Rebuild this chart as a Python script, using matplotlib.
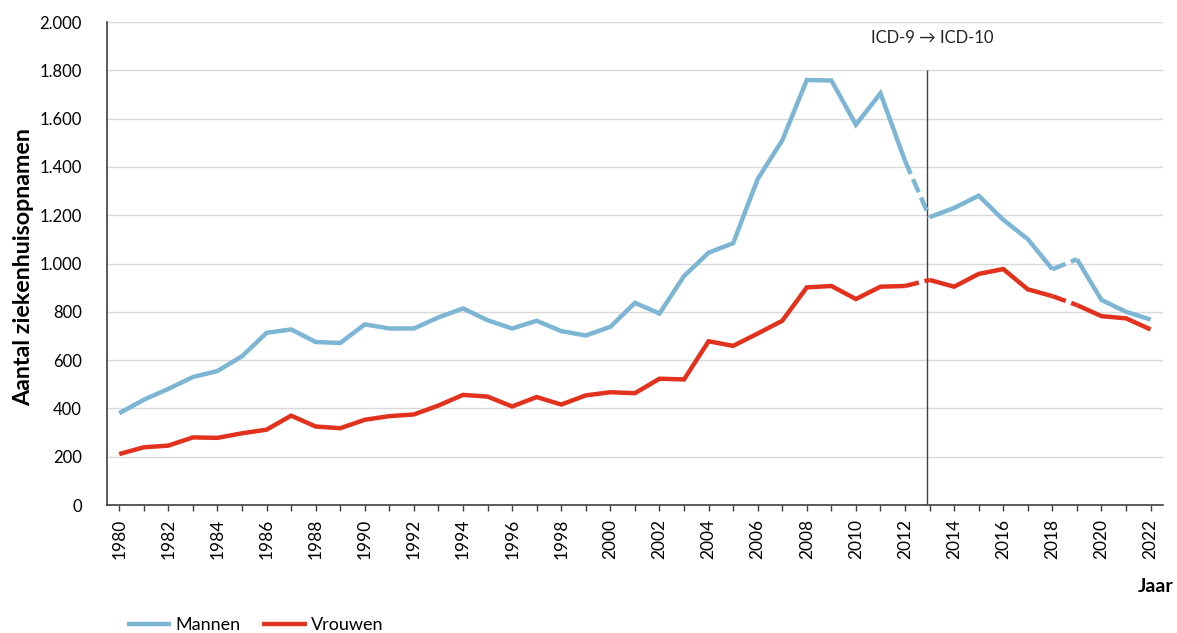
import numpy as np
import matplotlib.pyplot as plt
from matplotlib.ticker import FuncFormatter, MultipleLocator

# --- Data ---
years = list(range(1980, 2023))
mannen = [380, 436, 481, 530, 555, 616, 713, 727, 675, 671,
          748, 731, 731, 777, 814, 765, 731, 763, 720, 702,
          738, 837, 793, 948, 1045, 1084, 1350, 1510, 1760, 1758,
          1575, 1705, 1425, 1192, 1230, 1281, 1181, 1101, 976, 1018,
          849, 800, 768]
vrouwen = [211, 239, 246, 280, 278, 297, 312, 370, 325, 318,
           353, 368, 375, 412, 456, 449, 408, 447, 416, 454,
           467, 463, 523, 520, 678, 659, 710, 763, 901, 907,
           853, 904, 907, 932, 904, 957, 977, 893, 865, 828,
           782, 773, 727]
# segments where the coding changed (drawn dashed)
dashed_after = [2012, 2018]
icd_year = 2012.9
icd_label = "ICD-9 \u2192 ICD-10"

BLUE = "#7db5d4"
RED = "#e2311d"
FONT = ["Lato", "DejaVu Sans"]

plt.rcParams["font.family"] = FONT


def plot_series(ax, x, y, color, label):
    x = np.array(x)
    y = np.array(y)
    # split into solid pieces at the dashed transitions
    breaks = [x.tolist().index(b) for b in dashed_after]
    start = 0
    for b in breaks:
        ax.plot(x[start:b + 1], y[start:b + 1], color=color, lw=3.2,
                solid_capstyle="butt", solid_joinstyle="miter")
        ax.plot(x[b:b + 2], y[b:b + 2], color=color, lw=3.2,
                linestyle=(0, (3.2, 1.3)), dash_capstyle="butt")
        start = b + 1
    ax.plot(x[start:], y[start:], color=color, lw=3.2, label=label,
            solid_capstyle="butt", solid_joinstyle="miter")


fig = plt.figure(figsize=(11.77, 6.33), dpi=100)
ax = fig.add_axes([0.0909, 0.2022, 0.8971, 0.763])

ax.set_xlim(1979.5, 2022.5)
ax.set_ylim(0, 2000)

ax.yaxis.set_major_locator(MultipleLocator(200))
ax.yaxis.set_major_formatter(
    FuncFormatter(lambda v, p: f"{int(v):,}".replace(",", ".")))
ax.grid(axis="y", color="#d9d9d9", lw=1)
ax.set_axisbelow(True)

plot_series(ax, years, mannen, BLUE, "Mannen")
plot_series(ax, years, vrouwen, RED, "Vrouwen")

ax.vlines(icd_year, 0, 1800, color="#404040", lw=1, zorder=1)
ax.text(icd_year + 0.2, 1935, icd_label, ha="center", va="center",
        fontsize=12, color="#222222")

for s in ["top", "right"]:
    ax.spines[s].set_visible(False)
for s in ["left", "bottom"]:
    ax.spines[s].set_color("#404040")
    ax.spines[s].set_linewidth(1.2)

ax.set_xticks(years[::2])
ax.set_xticks(years, minor=True)
ax.tick_params(axis="x", which="both", length=4, width=1, color="#404040",
               labelsize=12.5, labelrotation=90, pad=6)
ax.tick_params(axis="y", length=0, labelsize=12, pad=18)

# y label: sized so that it spans roughly y=128..407 px as in the reference
ylab = fig.text(24 / 1177, 1 - 267 / 633, "Aantal ziekenhuisopnamen",
                rotation=90, ha="center", va="center", fontsize=13,
                fontweight="bold")
renderer = fig.canvas.get_renderer()
h = ylab.get_window_extent(renderer).height
ylab.set_fontsize(13 * 279 / h)

fig.text(0.997, 0.073, "Jaar", ha="right", va="center",
         fontsize=14, fontweight="bold")

handles, labels = ax.get_legend_handles_labels()
fig.legend(handles, labels, loc="center left", bbox_to_anchor=(0.094, 0.012),
           ncol=2, frameon=False, fontsize=13, handlelength=2.45,
           handletextpad=0.25, columnspacing=1.2)

fig.savefig("out.png", dpi=100)
